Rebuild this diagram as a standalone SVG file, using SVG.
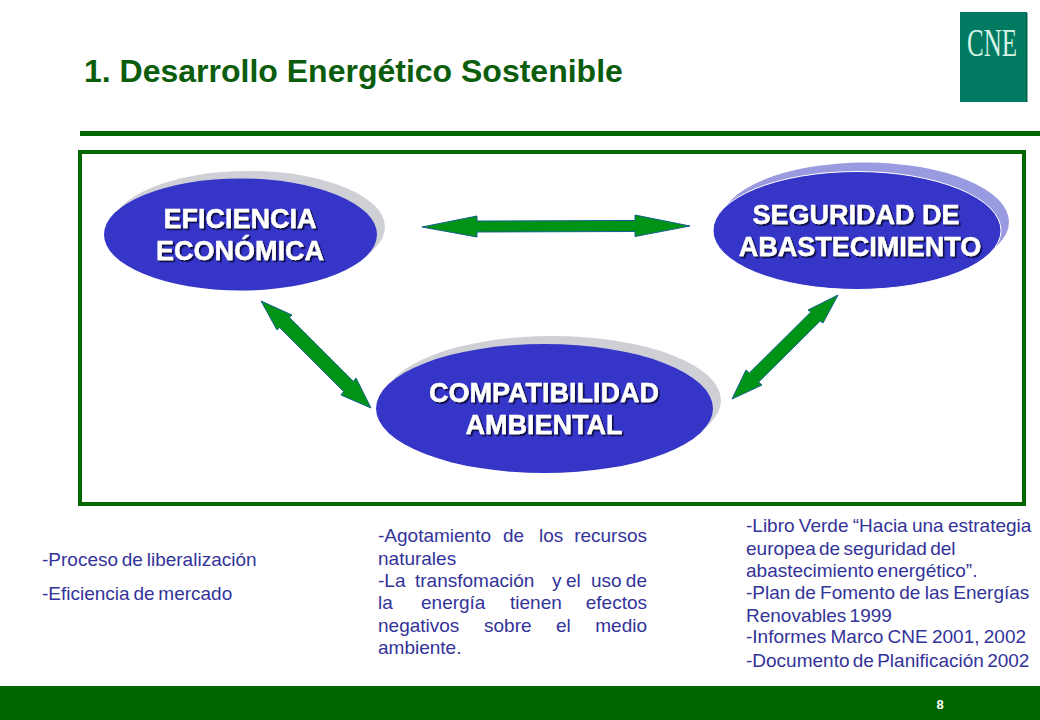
<svg xmlns="http://www.w3.org/2000/svg" width="1040" height="720" viewBox="0 0 1040 720">
<style>
text{font-family:"Liberation Sans",Arial,sans-serif}
.t{font-size:32px;font-weight:bold;fill:#0b5d0b}
.n{font-size:27px;font-weight:bold;fill:#fff;text-anchor:middle;filter:url(#ts);stroke:#fff;stroke-width:0.4}
.b{font-size:19px;fill:#333399}
.e{text-anchor:end}
.m{fill:#3535c8}
.g{fill:#cfcfd6}
.a{fill:#009315;stroke:#14608c;stroke-width:1;stroke-linejoin:miter}
</style>
<defs>
<filter id="ts" x="-5%" y="-20%" width="110%" height="140%"><feDropShadow dx="1.8" dy="1.8" stdDeviation="0.4" flood-color="#0f0f4a"/></filter>
</defs>
<rect width="1040" height="720" fill="#fff"/>
<text class="t" x="84" y="82">1. Desarrollo Energético Sostenible</text>
<g id="logo">
<rect x="960" y="12" width="67" height="90" fill="#007a60"/>
<rect x="1026" y="13" width="1.5" height="89" fill="#005f4a"/>
<text transform="translate(967,56) scale(.61,1)" font-size="41" style="font-family:'Liberation Serif',serif" fill="#d5f2e6">CNE</text>
</g>
<rect x="80" y="131" width="960" height="5" fill="#006600"/>
<rect x="80" y="152" width="944" height="352" fill="#fff" stroke="#006600" stroke-width="4"/>
<g id="connectors">
<polygon class="a" points="422,227 477,216 477,221 635,220.500 635,215 690,226 635,236.500 635,231.500 477,232 477,237"/>
<polygon class="a" points="261,301 292,315 289.400,317.500 353.400,381.500 356,378 371,408 341,395 343.600,391.500 279.600,327.500 277,330"/>
<polygon class="a" points="838,295 823,323 820.100,321.100 758.600,382.100 762,385 732,399 746,370 749.400,372.900 810.900,311.900 808,310"/>
</g>
<g id="node-eficiencia">
<ellipse class="g" cx="248.500" cy="227" rx="136.500" ry="56"/>
<ellipse class="m" cx="240.500" cy="234.500" rx="136.500" ry="56"/>
<text class="n" x="240" y="228">EFICIENCIA</text>
<text class="n" x="240" y="260">ECONÓMICA</text>
</g>
<g id="node-seguridad">
<ellipse fill="#9a9ae0" cx="865" cy="222" rx="144" ry="59.500"/>
<ellipse class="m" cx="857" cy="230.500" rx="144" ry="59" stroke="#fff" stroke-width="1"/>
<text class="n" x="856" y="224">SEGURIDAD DE</text>
<text class="n" x="860" y="256">ABASTECIMIENTO</text>
</g>
<g id="node-compatibilidad">
<ellipse class="g" cx="552.500" cy="400.500" rx="168.500" ry="64.500"/>
<ellipse class="m" cx="544.500" cy="408.500" rx="168.500" ry="64.500"/>
<text class="n" x="544" y="402">COMPATIBILIDAD</text>
<text class="n" x="544" y="434">AMBIENTAL</text>
</g>
<g id="text-left">
<text class="b" x="42" y="566" word-spacing="-1.500">-Proceso de liberalización</text>
<text class="b" x="42" y="600" word-spacing="-1.500">-Eficiencia de mercado</text>
</g>
<g id="text-middle">
<text class="b" y="542"><tspan x="378">-Agotamiento</tspan><tspan x="503">de</tspan><tspan x="539">los</tspan><tspan x="647" class="e">recursos</tspan></text>
<text class="b" x="378" y="565">naturales</text>
<text class="b" y="587"><tspan x="378">-La</tspan><tspan x="415">transfomación</tspan><tspan x="552">y</tspan><tspan x="566">el</tspan><tspan x="591">uso</tspan><tspan x="647" class="e">de</tspan></text>
<text class="b" y="609"><tspan x="378">la</tspan><tspan x="421">energía</tspan><tspan x="510">tienen</tspan><tspan x="647" class="e">efectos</tspan></text>
<text class="b" y="632"><tspan x="378">negativos</tspan><tspan x="484">sobre</tspan><tspan x="556">el</tspan><tspan x="647" class="e">medio</tspan></text>
<text class="b" x="378" y="654">ambiente.</text>
</g>
<g id="text-right">
<text class="b" x="746" y="532" word-spacing="-1">-Libro Verde “Hacia una estrategia</text>
<text class="b" x="746" y="555" word-spacing="-2">europea de seguridad del</text>
<text class="b" x="746" y="577" word-spacing="-2">abastecimiento energético”.</text>
<text class="b" x="746" y="599" word-spacing="-1">-Plan de Fomento de las Energías</text>
<text class="b" x="746" y="622" word-spacing="-2">Renovables 1999</text>
<text class="b" x="746" y="643" word-spacing="-1">-Informes Marco CNE 2001, 2002</text>
<text class="b" x="746" y="667" word-spacing="-2">-Documento de Planificación 2002</text>
</g>
<rect x="0" y="686" width="1040" height="34" fill="#006600"/>
<text x="940" y="709" font-size="13" font-weight="bold" fill="#fff" text-anchor="middle">8</text>
</svg>
